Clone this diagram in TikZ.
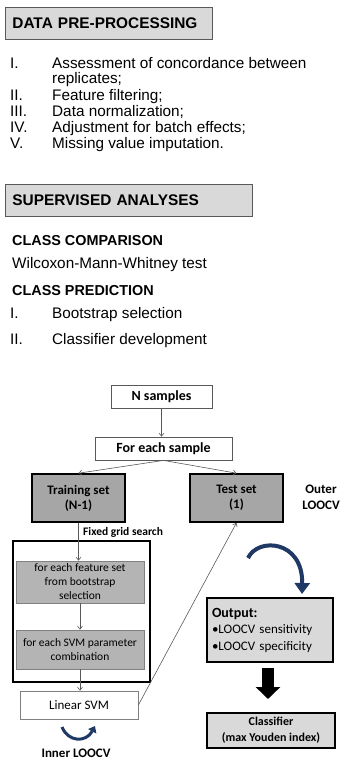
\documentclass[tikz,border=0pt]{standalone}
\usepackage{fontspec}
\setmainfont{Liberation Sans}
\newfontfamily\calfont{Carlito}
\usetikzlibrary{arrows.meta}
\definecolor{hdrgray}{HTML}{D9D9D9}
\definecolor{setgray}{HTML}{A6A6A6}
\definecolor{loopgray}{HTML}{B4B4B4}
\definecolor{loopblue}{HTML}{1F3864}
\definecolor{linegray}{HTML}{595959}
\newcommand{\listsize}{\fontsize{15.3}{17}\selectfont}

\begin{document}
\begin{tikzpicture}[x=1pt,y=-1pt,>={Straight Barb[length=3pt,width=5pt]},
	hdr/.style={draw=linegray,fill=hdrgray,line width=0.8pt,anchor=west,inner xsep=7pt,inner ysep=0pt,
		minimum height=32pt,text width=#1,align=left,font=\bfseries\fontsize{15.4}{17}\selectfont},
	txt/.style={anchor=base west,inner sep=0pt,font=\listsize},
	subhdr/.style={anchor=base west,inner sep=0pt,font=\bfseries\fontsize{14.4}{17}\selectfont},
	startbox/.style={draw=linegray,fill=white,line width=0.8pt,inner sep=0pt,font=\calfont\bfseries\fontsize{14}{16}\selectfont},
	setbox/.style={draw=black,fill=setgray,line width=1.6pt,minimum width=93pt,minimum height=48pt,
		inner sep=0pt,align=center,font=\calfont\bfseries\fontsize{13}{15}\selectfont},
	loopbox/.style={draw=gray,fill=loopgray,line width=0.8pt,minimum width=128pt,inner sep=0pt,
		align=center,font=\calfont\fontsize{11.5}{14}\selectfont},
	resbox/.style={draw=black,fill=hdrgray,line width=1.2pt,inner sep=0pt},
	conn/.style={draw=linegray,line width=0.6pt,->}]
	\useasboundingbox (0,0) rectangle (343,760);
	%Pre-processing
	\node [hdr=193pt] (prep) at (5,23) {DATA PRE-PROCESSING};
	\node [txt] (n1) at (10,68) {I.};
	\node [txt] (t1) at (52,68) {Assessment of concordance between};
	\node [txt] (t1b) at (52,84) {replicates;};
	\node [txt] (n2) at (10,100) {II.};
	\node [txt] (t2) at (52,100) {Feature filtering;};
	\node [txt] (n3) at (10,116) {III.};
	\node [txt] (t3) at (52,116) {Data normalization;};
	\node [txt] (n4) at (10,132) {IV.};
	\node [txt] (t4) at (52,132) {Adjustment for batch effects;};
	\node [txt] (n5) at (10,148) {V.};
	\node [txt] (t5) at (52,148) {Missing value imputation.};
	%Supervised
	\node [hdr=233pt] (sup) at (5,200) {SUPERVISED ANALYSES};
	\node [subhdr] (comp) at (12,245) {CLASS COMPARISON};
	\node [txt] (wmw) at (12,268) {Wilcoxon-Mann-Whitney test};
	\node [subhdr] (pred) at (12,295) {CLASS PREDICTION};
	\node [txt] (p1n) at (10,318) {I.};
	\node [txt] (p1) at (52,318) {Bootstrap selection};
	\node [txt] (p2n) at (10,344) {II.};
	\node [txt] (p2) at (52,344) {Classifier development};
	%Flow
	\node [startbox,minimum width=101pt,minimum height=23pt] (nsamp) at (161.5,396.5) {N samples};
	\node [startbox,minimum width=137pt,minimum height=23pt] (fes) at (163.5,448.5) {For each sample};
	\node [setbox] (train) at (78.5,498) {Training set\\(N-1)};
	\node [setbox] (test) at (236.5,498) {Test set\\(1)};
	\node [align=center,inner sep=0pt,font=\calfont\bfseries\fontsize{13}{16}\selectfont] (outer) at (321,497) {Outer\\LOOCV};
	\node [anchor=west,inner sep=0pt,font=\calfont\bfseries\fontsize{11.5}{13}\selectfont] (fgs) at (83,532) {Fixed grid search};
	\node [draw=black,line width=1.2pt,minimum width=137pt,minimum height=141pt] (grid) at (81.5,611.5) {};
	\node [loopbox,minimum height=42pt] (feat) at (80,582) {for each feature set\\from bootstrap\\selection};
	\node [loopbox,minimum height=39pt] (param) at (80,649.5) {for each SVM parameter\\combination};
	\node [draw=gray,fill=white,line width=0.8pt,minimum width=118pt,minimum height=28pt,inner sep=0pt,
		font=\calfont\fontsize{13}{15}\selectfont] (lsvm) at (79,705) {Linear SVM};
	\node [inner sep=0pt,font=\calfont\bfseries\fontsize{13}{15}\selectfont] (inner) at (76,753) {Inner LOOCV};
	\node [resbox,minimum width=126pt,minimum height=64pt,text width=116pt,inner xsep=5pt,align=left,
		font=\calfont\fontsize{13}{16.5}\selectfont] (output) at (270,630)
		{{\bfseries\fontsize{14}{16.5}\selectfont Output:}\\•LOOCV sensitivity\\•LOOCV specificity};
	\node [resbox,minimum width=128pt,minimum height=35pt,align=center,
		font=\calfont\bfseries\fontsize{12}{16}\selectfont] (clf) at (271,730.5) {Classifier\\(max Youden index)};
	%Frecce
	\draw [conn] (nsamp.south) -- (nsamp.south |- fes.north);
	\draw [conn] (fes.south) -- (train.north);
	\draw [conn] (fes.south) -- (test.north);
	\draw [conn] (train.south) -- (train.south |- feat.north);
	\draw [conn] (feat.south) -- (feat.south |- param.north);
	\draw [conn] (param.south) -- (param.south |- lsvm.north);
	\draw [conn] (lsvm.east) -- (test.south);
	%Loop
	\coordinate (swA) at (248,558);
	\coordinate (swB) at (302,594);
	\draw [loopblue,line width=4pt,-{Triangle[length=11pt,width=15pt]}] (swA) .. controls (258,537) and (303,540) .. (swB);
	\coordinate (inA) at (62,727);
	\coordinate (inB) at (95,726);
	\draw [loopblue,line width=3pt,-{Triangle[length=6pt,width=9pt]}] (inA) .. controls (68,742) and (86,743) .. (inB);
	\coordinate (blkA) at (268,668);
	\coordinate (blkB) at (268,699);
	\draw [black,line width=12pt,-{Triangle[length=12pt,width=24pt]}] (blkA) -- (blkB);
\end{tikzpicture}
\end{document}
